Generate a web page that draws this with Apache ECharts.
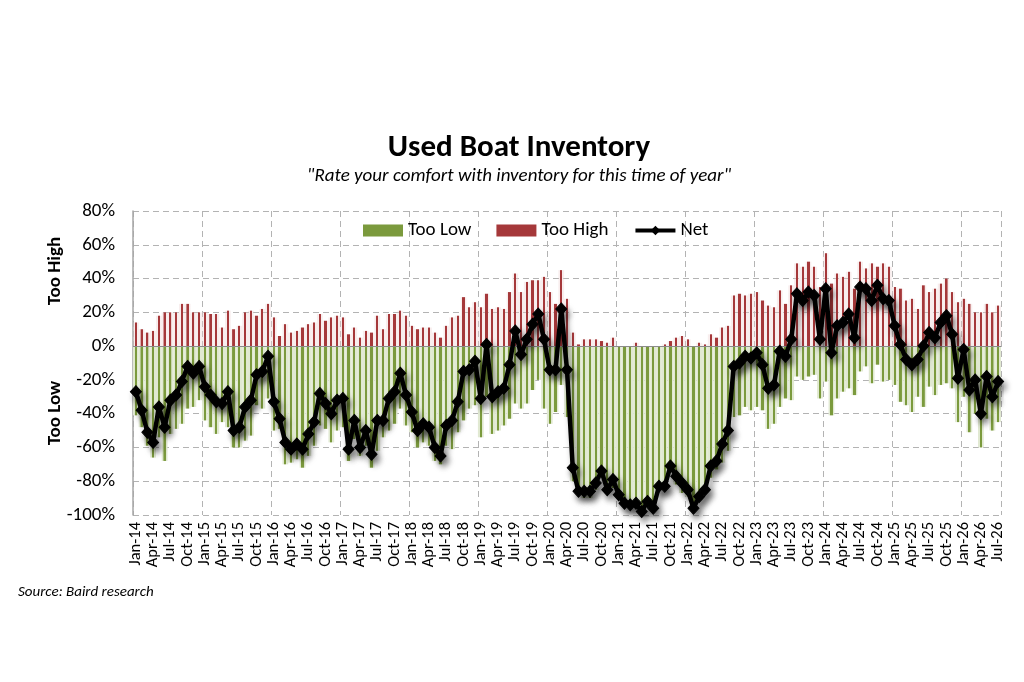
<!DOCTYPE html>
<html>
<head>
<meta charset="utf-8">
<title>Used Boat Inventory</title>
<script src="https://cdn.jsdelivr.net/npm/echarts@6/dist/echarts.min.js"></script>
<style>
    html, body { margin: 0; padding: 0; background: #fff; }
    #myChart { width: 1024px; height: 682px; }
</style>
</head>
<body>
<div id="myChart"></div>
<script>
/* Used boat inventory - dealer survey */
var monthNames = ['Jan', 'Feb', 'Mar', 'Apr', 'May', 'Jun', 'Jul', 'Aug', 'Sep', 'Oct', 'Nov', 'Dec'];
var years = ['14', '15', '16', '17', '18', '19', '20', '21', '22', '23', '24', '25', '26'];
var lastMonthOfLastYear = 7; // survey runs to Jul-26

var yTicks = [-100, -80, -60, -40, -20, 0, 20, 40, 60, 80];

// share of dealers saying inventory is too high (%)
var tooHigh = [
    14, 10, 8, 9, 18, 20, 20, 20, 25, 25, 20, 20,
    20, 19, 19, 11, 21, 10, 12, 20, 21, 18, 22, 25,
    17, 6, 13, 8, 9, 11, 13, 14, 19, 15, 17, 18,
    17, 7, 11, 5, 9, 8, 18, 10, 19, 19, 21, 18,
    12, 10, 11, 11, 8, 5, 12, 17, 18, 29, 23, 26,
    23, 31, 22, 23, 22, 32, 43, 32, 38, 39, 39, 41,
    32, 25, 45, 28, 8, 1, 4, 4, 4, 3, 2, 5,
    0, 0, 0, 2, 0, 0, 0, 0, 1, 3, 5, 6,
    4, 0, 2, 1, 7, 5, 11, 12, 30, 31, 30, 31,
    32, 27, 24, 23, 33, 25, 36, 49, 47, 50, 47, 35,
    55, 37, 43, 41, 44, 34, 50, 46, 49, 47, 49, 47,
    35, 34, 27, 28, 22, 36, 32, 34, 37, 40, 32, 26,
    28, 25, 20, 20, 25, 20, 24
];

// share saying inventory is too low (%), drawn below zero
var tooLow = [
    -41, -48, -59, -66, -54, -68, -52, -49, -46, -37, -36, -32,
    -44, -48, -52, -45, -48, -60, -60, -56, -53, -35, -37, -31,
    -50, -49, -70, -69, -67, -72, -65, -59, -47, -49, -57, -50,
    -48, -68, -55, -65, -59, -72, -62, -54, -50, -46, -37, -47,
    -51, -60, -57, -59, -68, -70, -59, -61, -51, -44, -37, -35,
    -54, -30, -52, -50, -47, -43, -34, -37, -34, -26, -20, -37,
    -46, -39, -23, -42, -80, -87, -90, -90, -85, -77, -87, -84,
    -88, -93, -94, -95, -98, -92, -96, -83, -84, -74, -82, -87,
    -89, -96, -91, -86, -78, -73, -69, -62, -42, -41, -36, -38,
    -36, -38, -49, -46, -36, -31, -32, -18, -20, -18, -17, -31,
    -21, -41, -31, -27, -25, -29, -15, -12, -22, -11, -21, -20,
    -23, -33, -35, -39, -30, -36, -24, -29, -23, -22, -25, -45,
    -30, -51, -40, -60, -43, -50, -45
];

// net reading (%)
var net = [
    -27, -38, -51, -57, -36, -48, -32, -29, -21, -12, -16, -12,
    -24, -29, -33, -34, -27, -50, -48, -36, -32, -17, -15, -6,
    -33, -43, -57, -61, -58, -61, -52, -45, -28, -34, -40, -32,
    -31, -61, -44, -60, -50, -64, -44, -44, -31, -27, -16, -29,
    -39, -50, -46, -48, -60, -65, -47, -44, -33, -15, -14, -9,
    -31, 1, -30, -27, -25, -11, 9, -5, 4, 13, 19, 4,
    -14, -14, 22, -14, -72, -86, -86, -86, -81, -74, -85, -79,
    -88, -93, -94, -93, -98, -92, -96, -83, -83, -71, -77, -81,
    -85, -96, -89, -85, -71, -68, -58, -50, -12, -10, -6, -7,
    -4, -11, -25, -23, -3, -6, 4, 31, 27, 32, 30, 4,
    34, -4, 12, 14, 19, 5, 35, 34, 27, 36, 28, 27,
    12, 1, -8, -11, -8, 0, 8, 5, 14, 18, 7, -19,
    -2, -26, -20, -40, -18, -30, -21
];

var myChart;
var fontFamily = 'Carlito, Calibri, Lato, "Open Sans", sans-serif';
var greenDark = '#7b9a3d';
var redDark = '#a5383a';

function buildMonths() {
    var list = [];
    for (var y = 0; y < years.length; y++) {
        var n = (y == years.length - 1) ? lastMonthOfLastYear : 12;
        for (var m = 0; m < n; m++) {
            list.push(monthNames[m] + '-' + years[y]);
        }
    }
    return list;
}

function barGradient(dark, light) {
    return new echarts.graphic.LinearGradient(0, 0, 1, 0, [
        { offset: 0, color: light },
        { offset: 0.3, color: light },
        { offset: 0.31, color: dark },
        { offset: 0.69, color: dark },
        { offset: 0.7, color: light },
        { offset: 1, color: light }
    ]);
}

function generateChart() {
    var months = buildMonths();

    var option = {
        animation: false,
        textStyle: { fontFamily: fontFamily },
        grid: { left: 133, right: 23, top: 211, bottom: 167 },
        legend: {
            left: 358,
            top: 216,
            itemWidth: 40,
            itemHeight: 12,
            itemGap: 25,
            textStyle: { fontFamily: fontFamily, fontSize: 19, color: '#000' },
            data: [
                { name: 'Too Low', icon: 'rect', itemStyle: { color: greenDark } },
                { name: 'Too High', icon: 'rect', itemStyle: { color: redDark } },
                { name: 'Net', lineStyle: { width: 4, shadowBlur: 0, shadowOffsetX: 0, shadowOffsetY: 0 },
                    itemStyle: { shadowBlur: 0, shadowOffsetX: 0, shadowOffsetY: 0 } }
            ]
        },
        graphic: [
            {
                type: 'text', x: 519, y: 148,
                style: { text: 'Used Boat Inventory', align: 'center', verticalAlign: 'middle',
                    font: 'bold 31px ' + fontFamily, fill: '#000' }
            },
            {
                type: 'text', x: 519, y: 176,
                style: { text: '"Rate your comfort with inventory for this time of year"', align: 'center',
                    verticalAlign: 'middle', font: 'italic 19px ' + fontFamily, fill: '#000' }
            },
            {
                type: 'text', x: 55, y: 271, rotation: Math.PI / 2,
                style: { text: 'Too High', align: 'center', verticalAlign: 'middle',
                    font: 'bold 19px ' + fontFamily, fill: '#000' }
            },
            {
                type: 'text', x: 55, y: 413, rotation: Math.PI / 2,
                style: { text: 'Too Low', align: 'center', verticalAlign: 'middle',
                    font: 'bold 19px ' + fontFamily, fill: '#000' }
            },
            {
                type: 'text', x: 18, y: 592,
                style: { text: 'Source: Baird research', align: 'left', verticalAlign: 'middle',
                    font: 'italic 15px ' + fontFamily, fill: '#000' }
            }
        ],
        xAxis: {
            type: 'category',
            data: months,
            boundaryGap: true,
            axisLine: { show: false },
            axisTick: { show: false },
            axisLabel: {
                interval: 2,
                rotate: 90,
                margin: 7,
                fontSize: 16.5,
                color: '#000',
                fontFamily: fontFamily
            },
            splitLine: {
                show: true,
                interval: 11,
                lineStyle: { color: '#b3b3b3', type: [6, 4], width: 1 }
            }
        },
        yAxis: {
            type: 'value',
            min: yTicks[0],
            max: yTicks[yTicks.length - 1],
            interval: 20,
            axisLine: { show: true, lineStyle: { color: '#a6a6a6', width: 1.5 } },
            axisTick: { show: false },
            axisLabel: {
                formatter: '{value}%',
                fontSize: 19,
                margin: 18,
                color: '#000',
                fontFamily: fontFamily
            },
            splitLine: { lineStyle: { color: '#b3b3b3', type: [6, 4], width: 1 } }
        },
        series: [
            {
                name: 'Too Low',
                type: 'bar',
                data: tooLow,
                barWidth: '100%',
                barGap: '-100%',
                barCategoryGap: '0%',
                itemStyle: { color: barGradient(greenDark, '#e1e9d2') }
            },
            {
                name: 'Too High',
                type: 'bar',
                data: tooHigh,
                barWidth: '100%',
                barGap: '-100%',
                barCategoryGap: '0%',
                itemStyle: { color: barGradient(redDark, 'rgba(235,205,205,0.35)') },
                markLine: {
                    silent: true,
                    symbol: 'none',
                    label: { show: false },
                    lineStyle: { color: '#8c8c8c', type: 'solid', width: 1.2 },
                    data: [{ yAxis: 0 }]
                }
            },
            {
                name: 'Net',
                type: 'line',
                data: net,
                symbol: 'diamond',
                symbolSize: [11, 12],
                showAllSymbol: true,
                z: 5,
                lineStyle: {
                    color: '#000',
                    width: 4.5,
                    shadowColor: 'rgba(0,0,0,0.45)',
                    shadowBlur: 6,
                    shadowOffsetX: 3,
                    shadowOffsetY: 5
                },
                itemStyle: {
                    color: '#000',
                    borderColor: '#000',
                    shadowColor: 'rgba(0,0,0,0.45)',
                    shadowBlur: 6,
                    shadowOffsetX: 3,
                    shadowOffsetY: 5
                }
            }
        ]
    };

    myChart.setOption(option);
}

myChart = echarts.init(document.getElementById('myChart'));
generateChart();
</script>
</body>
</html>
